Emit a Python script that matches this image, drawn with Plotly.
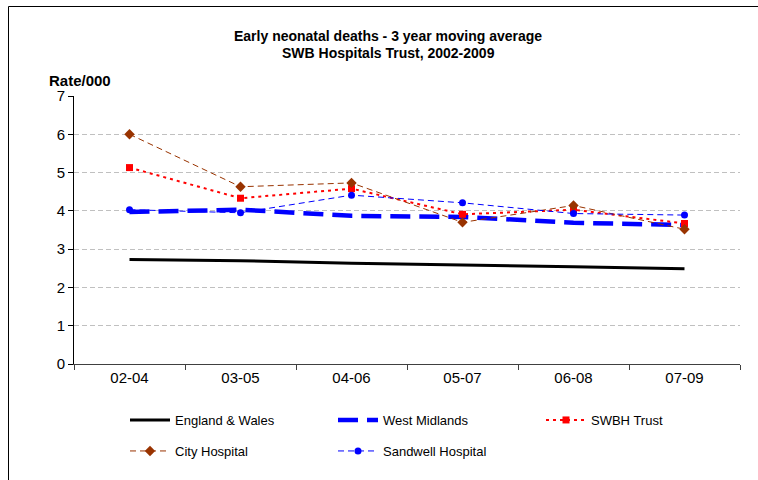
import plotly.graph_objects as go

categories = ["02-04", "03-05", "04-06", "05-07", "06-08", "07-09"]
england_wales = [2.73, 2.70, 2.63, 2.59, 2.54, 2.49]
west_midlands = [3.97, 4.03, 3.87, 3.84, 3.69, 3.63]
swbh_trust = [5.13, 4.33, 4.58, 3.91, 4.03, 3.67]
city_hospital = [6.00, 4.63, 4.73, 3.70, 4.14, 3.52]
sandwell_hospital = [4.03, 3.95, 4.41, 4.21, 3.93, 3.89]

FONT = "Liberation Sans, Arial, sans-serif"
W, H = 758, 480
ML, MR, MT, MB = 74, 18, 96, 116
PW, PH = W - ML - MR, H - MT - MB

fig = go.Figure()
fig.add_trace(go.Scatter(x=categories, y=england_wales, name="England & Wales", mode="lines",
                         line=dict(color="#000000", width=3), legend="legend"))
fig.add_trace(go.Scatter(x=categories, y=west_midlands, name="West Midlands", mode="lines",
                         line=dict(color="#0000FF", width=4.5, dash="20px,9px"), legend="legend"))
fig.add_trace(go.Scatter(x=categories, y=swbh_trust, name="SWBH Trust", mode="lines+markers",
                         line=dict(color="#FF0000", width=2, dash="3px,4px"),
                         marker=dict(symbol="square", size=7, color="#FF0000"), legend="legend"))
fig.add_trace(go.Scatter(x=categories, y=city_hospital, name="City Hospital", mode="lines+markers",
                         line=dict(color="#993300", width=1, dash="6px,4px"),
                         marker=dict(symbol="diamond", size=8, color="#993300"), legend="legend2"))
fig.add_trace(go.Scatter(x=categories, y=sandwell_hospital, name="Sandwell Hospital", mode="lines+markers",
                         line=dict(color="#0000FF", width=1, dash="6px,4px"),
                         marker=dict(symbol="circle", size=7, color="#0000FF"), legend="legend2"))

def px_x(p):
    return (p - ML) / PW

def px_y(p):
    return 1 - (p - MT) / PH

legend_common = dict(orientation="h", xanchor="left", yanchor="middle",
                     font=dict(family=FONT, size=13, color="#000000"),
                     bgcolor="rgba(0,0,0,0)", entrywidth=153, entrywidthmode="pixels",
                     itemwidth=40, tracegroupgap=0)

fig.update_layout(
    width=W, height=H,
    margin=dict(l=ML, r=MR, t=MT, b=MB, autoexpand=False),
    paper_bgcolor="#FFFFFF", plot_bgcolor="#FFFFFF",
    font=dict(family=FONT, color="#000000"),
    xaxis=dict(type="category", showline=True, linecolor="#404040", linewidth=1, ticks="outside", ticklen=5,
               tickcolor="#404040", tickson="boundaries", showgrid=False, automargin=False,
               tickfont=dict(family=FONT, size=15, color="#000000"), range=[-0.5, 5.5]),
    yaxis=dict(range=[0, 7], dtick=1, showline=True, linecolor="#000000", linewidth=1,
               ticks="outside", ticklen=5, tickcolor="#000000", automargin=False,
               showgrid=True, gridcolor="#C0C0C0", griddash="5px,3px", gridwidth=1,
               tickfont=dict(family=FONT, size=15, color="#000000"), zeroline=False),
    legend=dict(x=px_x(125), y=px_y(420), **legend_common),
    legend2=dict(x=px_x(125), y=px_y(451), **legend_common),
    showlegend=True,
)

fig.add_annotation(text="<b>Early neonatal deaths - 3 year moving average</b>", xref="paper", yref="paper",
                   x=px_x(388), y=px_y(35.5), xanchor="center", yanchor="middle",
                   showarrow=False, font=dict(family=FONT, size=14, color="#000000"))
fig.add_annotation(text="<b>SWB Hospitals Trust, 2002-2009</b>", xref="paper", yref="paper",
                   x=px_x(388), y=px_y(53), xanchor="center", yanchor="middle",
                   showarrow=False, font=dict(family=FONT, size=14, color="#000000"))
fig.add_annotation(text="<b>Rate/000</b>", xref="paper", yref="paper",
                   x=px_x(47), y=px_y(81), xanchor="left", yanchor="middle",
                   showarrow=False, font=dict(family=FONT, size=15, color="#000000"))

fig.add_shape(type="rect", xref="paper", yref="paper",
              x0=px_x(8.5), x1=px_x(W + 20), y0=px_y(H + 20), y1=px_y(6.5),
              line=dict(color="#000000", width=1), fillcolor="rgba(0,0,0,0)", layer="below")

fig.write_html("out.html", config={"displayModeBar": False},
               post_script="document.body.style.margin='0';")
